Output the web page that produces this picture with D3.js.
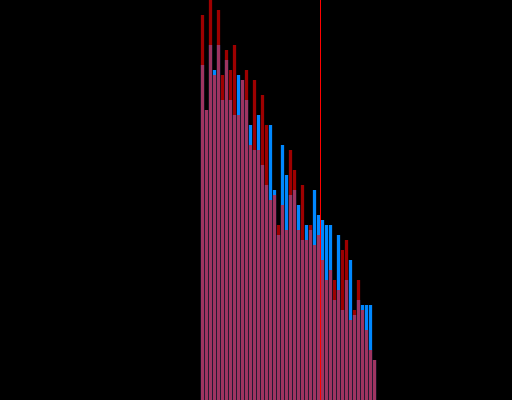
<!DOCTYPE html>
<html>
<head>
<meta charset="utf-8">
<script src="https://cdn.jsdelivr.net/npm/d3@7"></script>
<style>
  html, body { margin: 0; padding: 0; background: #000; }
  svg { display: block; }
</style>
</head>
<body>
<svg id="chart" width="512" height="400"></svg>
<script>
'use strict';

// bin counts, one per bin, left to right
const redCounts = [77, 58, 80, 65, 78, 65, 70, 66, 71, 57, 64, 66, 51, 64, 50, 61,
  55, 40, 41, 35, 39, 34, 50, 46, 34, 43, 32, 35, 31, 33, 28, 24, 26, 24, 22, 30,
  32, 16, 18, 24, 18, 14, 10, 8];
const blueCounts = [67, 58, 71, 66, 71, 60, 68, 60, 57, 65, 64, 60, 55, 50, 57, 47,
  43, 55, 42, 33, 51, 45, 41, 42, 39, 32, 35, 34, 42, 37, 36, 35, 35, 20, 33, 18,
  24, 28, 17, 20, 19, 19, 19, 8];
const markerBin = 30;

const svg = d3.select("#chart");
const width = 512, height = 400;

const x = d3.scaleLinear().domain([0, redCounts.length]).range([200.5, 376.5]);
const y = d3.scaleLinear().domain([0, 80]).range([height, 0]);

const bins = d3.range(redCounts.length);
const gap = 0.75;

// blue histogram underneath, opaque
svg.append("g")
  .selectAll("rect")
  .data(bins)
  .join("rect")
  .attr("x", i => x(i) + gap / 2)
  .attr("width", i => x(i + 1) - x(i) - gap)
  .attr("y", i => y(blueCounts[i]))
  .attr("height", i => height - y(blueCounts[i]))
  .attr("fill", "#0088ff");

// red histogram on top, semi transparent
svg.append("g")
  .selectAll("rect")
  .data(bins)
  .join("rect")
  .attr("x", i => x(i) + gap / 2)
  .attr("width", i => x(i + 1) - x(i) - gap)
  .attr("y", i => y(redCounts[i]))
  .attr("height", i => height - y(redCounts[i]))
  .attr("fill", "#ff0000")
  .attr("fill-opacity", 0.62);

// marker line
svg.append("line")
  .attr("x1", x(markerBin)).attr("x2", x(markerBin))
  .attr("y1", 0).attr("y2", height)
  .attr("stroke", "#ff0000")
  .attr("stroke-width", 1);
</script>
</body>
</html>
